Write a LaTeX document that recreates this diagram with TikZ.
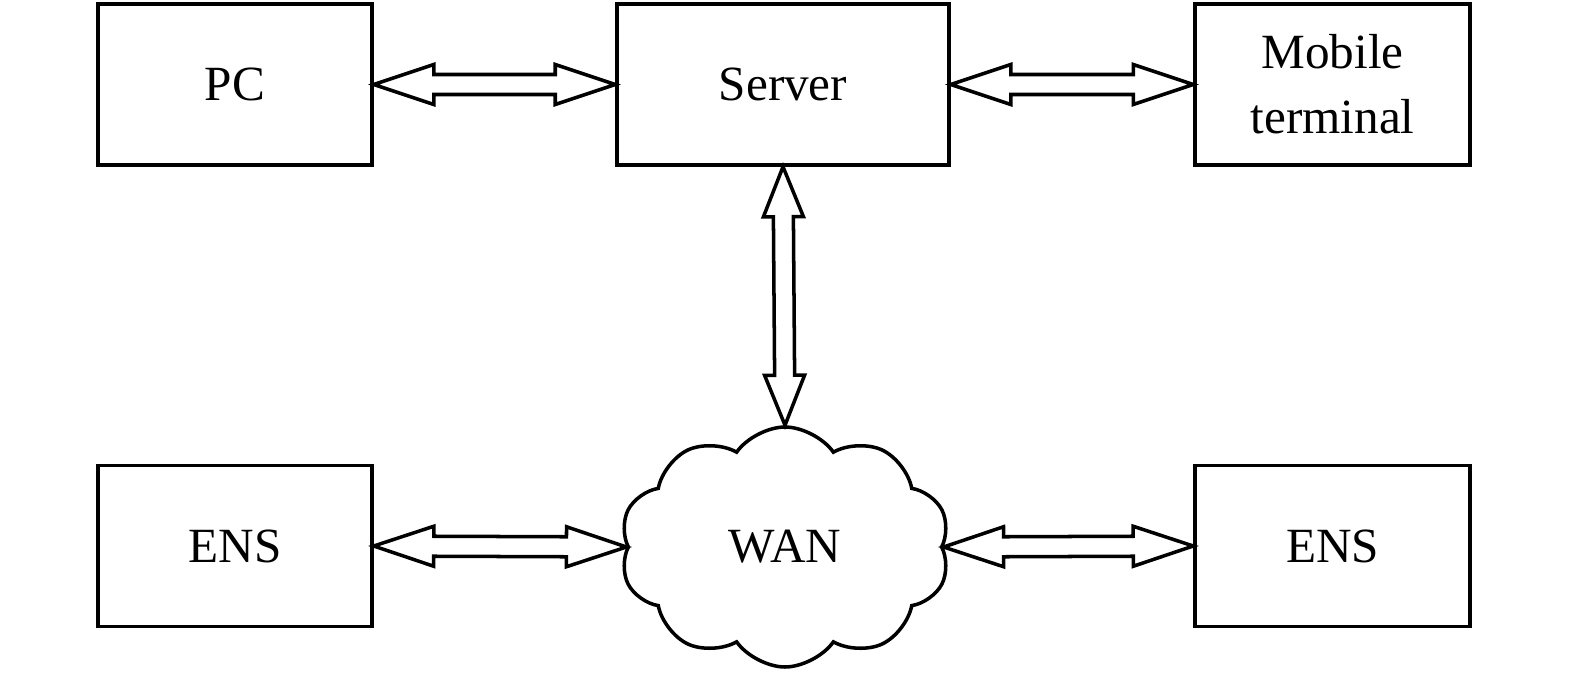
\documentclass[tikz,border=0pt]{standalone}
\usepackage{fontspec}
\setmainfont{Liberation Serif}
\usepackage{tikz}
\usetikzlibrary{calc, shapes.symbols}

% hollow double-headed arrow between two points: [head length]{from}{to}
\newcommand{\dblarrow}[3][1.2cm]{%
    \draw[hollow]
        (#2) -- ($(#2)!#1!(#3)!0.40cm!90:(#3)$) -- ($(#2)!#1!(#3)!0.20cm!90:(#3)$)
        -- ($(#3)!#1!(#2)!0.20cm!-90:(#2)$) -- ($(#3)!#1!(#2)!0.40cm!-90:(#2)$)
        -- (#3) -- ($(#3)!#1!(#2)!0.40cm!90:(#2)$) -- ($(#3)!#1!(#2)!0.20cm!90:(#2)$)
        -- ($(#2)!#1!(#3)!0.20cm!-90:(#3)$) -- ($(#2)!#1!(#3)!0.40cm!-90:(#3)$)
        -- cycle;}

\begin{document}
\begin{tikzpicture}[
    box/.style={draw, line width=2pt, minimum height=3.22cm, align=center,
                font=\fontsize{28}{37}\selectfont},
    hollow/.style={draw, line width=2pt, line join=miter, fill=white},
]
    \useasboundingbox (0,0) rectangle (31.5,13.44);

    \node[box, minimum width=5.48cm] (pc) at (4.70,11.75) {PC};
    \node[box, minimum width=6.64cm] (server) at (15.66,11.75) {Server};
    \node[box, minimum width=5.50cm] (mobile) at (26.65,11.75) {Mobile\\terminal};

    \node[box, minimum width=5.48cm] (ensl) at (4.70,2.52) {ENS};
    \node[box, minimum width=5.50cm] (ensr) at (26.65,2.52) {ENS};

    \node[draw, line width=2pt, cloud, cloud puffs=10, cloud puff arc=110,
          cloud ignores aspect, minimum width=6.6cm, minimum height=4.8cm,
          font=\fontsize{28}{37}\selectfont] (wan) at (15.70,2.50) {WAN};

    \dblarrow{pc.east}{server.west}
    \dblarrow{server.east}{mobile.west}
    \dblarrow[1.0cm]{server.south}{wan.north}
    \dblarrow{ensl.east}{wan.west}
    \dblarrow{wan.east}{ensr.west}
\end{tikzpicture}
\end{document}
